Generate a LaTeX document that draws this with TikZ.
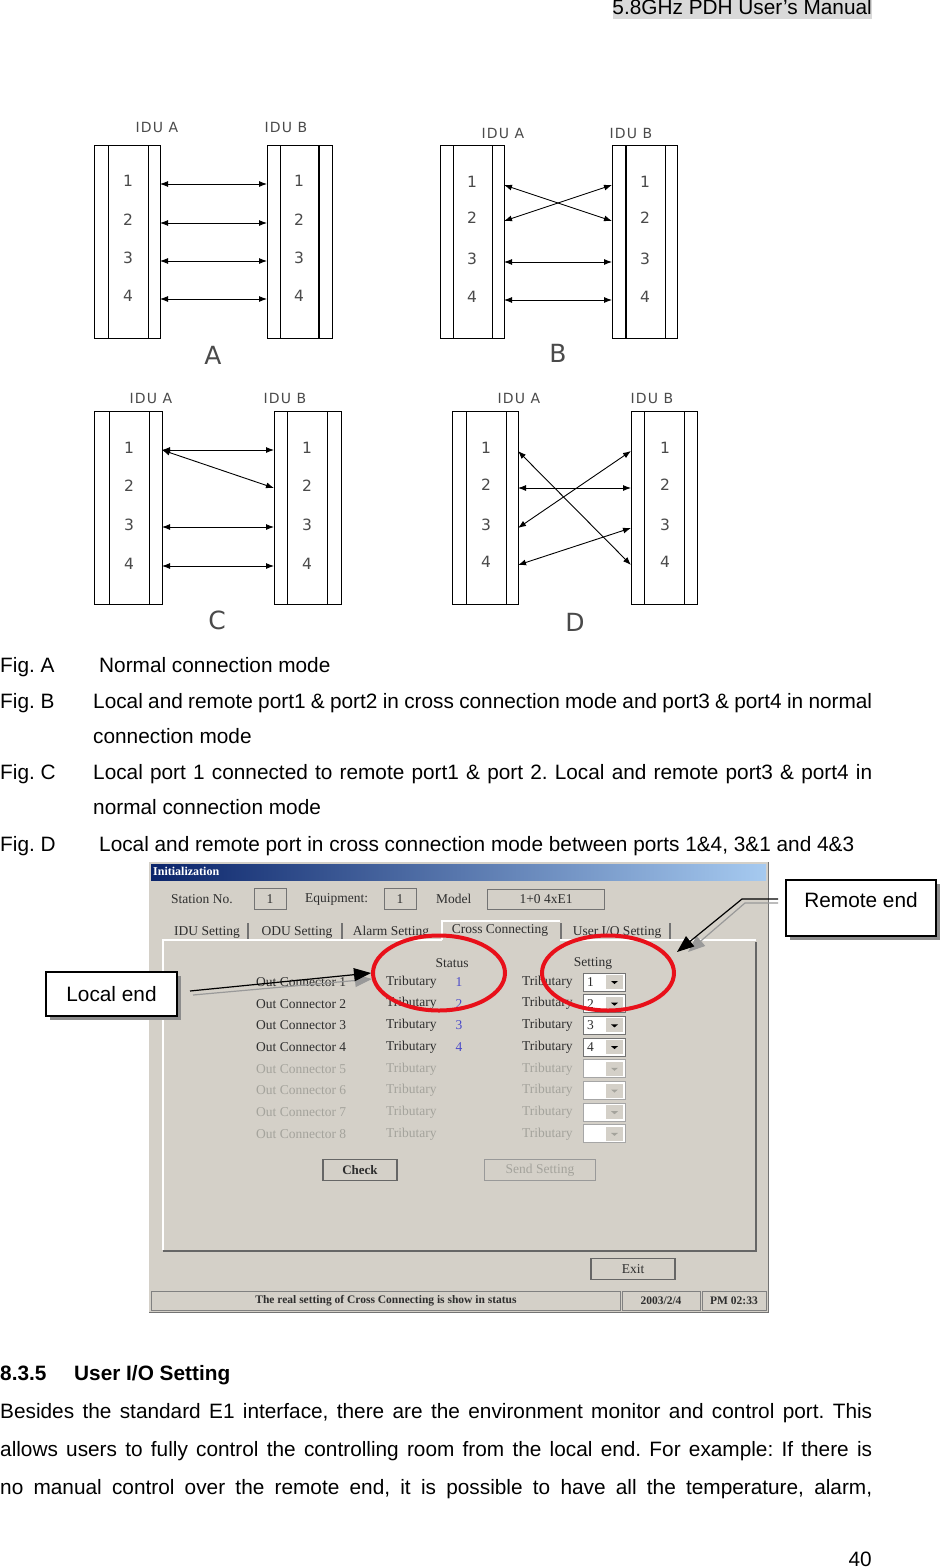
\documentclass[tikz,border=0pt]{standalone}
\usepackage{fontspec}
\setmainfont{Liberation Sans}
\newfontfamily\idufont[LetterSpace=8]{DejaVu Sans}
\newfontfamily\letterfont{DejaVu Sans}
\newfontfamily\shotfont{Liberation Serif}
\usetikzlibrary{arrows.meta,shapes.geometric,shadows,calc}
\definecolor{winbg}{HTML}{D4D0C8}
\definecolor{titledark}{HTML}{0A246A}
\definecolor{titlelight}{HTML}{A6CAF0}
\definecolor{wintext}{HTML}{2E2E2E}
\definecolor{windim}{HTML}{A4A39C}
\definecolor{winblue}{HTML}{4A4AC8}
\definecolor{ringred}{HTML}{E8101A}
\definecolor{hdrgray}{HTML}{D9D9D9}
\definecolor{idugray}{HTML}{4A4A4A}
\frenchspacing
\begin{document}
\begin{tikzpicture}[x=1pt,y=-1pt,
  body/.style={font=\fontsize{20.8}{25}\selectfont,inner sep=0,anchor=base west},
  idu/.style={font=\idufont\fontsize{14}{14}\selectfont,text=idugray,inner sep=0},
  port/.style={font=\idufont\fontsize{15.5}{15}\selectfont,text=idugray,inner sep=0},
  figletter/.style={font=\letterfont\fontsize{25}{25}\selectfont,text=idugray,inner sep=0},
  unit/.style={line width=1pt},
  link/.style={{Latex[length=8pt,width=6pt]}-{Latex[length=8pt,width=6pt]},line width=0.9pt},
  shot/.style={font=\shotfont\fontsize{13.5}{14}\selectfont,text=wintext,inner sep=0},
  dim/.style={shot,text=windim},
  field/.style={shot,draw=black!55,line width=1pt},
  btn/.style={shot,draw=black!60,line width=1.2pt,minimum height=21pt},
  pane/.style={shot,font=\shotfont\bfseries\fontsize{11.5}{12}\selectfont,draw=black!50,line width=1pt,minimum height=19pt},
  ring/.style={ellipse,draw=ringred,line width=4pt,minimum width=132pt,minimum height=75pt,inner sep=0},
  callout/.style={draw,line width=1.5pt,fill=white,font=\fontsize{20.8}{25}\selectfont,
    drop shadow={shadow xshift=4pt,shadow yshift=-4pt,fill=black!45,opacity=1}},
  pointer/.style={-{Triangle[length=17pt,width=13pt]},line width=1.2pt},
  pointer shadow/.style={pointer,draw=black!40}
]
\useasboundingbox (0,0) rectangle (941,1568);
\fill[white] (0,0) rectangle (941,1568);

% page header
\fill[hdrgray] (613,0) rectangle (872,19);
\node[body,anchor=base east] (header) at (872,15) {5.8GHz PDH User’s Manual};

% fig A
\draw[unit] (94,145) rectangle (160,338);
\draw[unit] (108,145) -- (108,338) (148,145) -- (148,338);
\draw[unit] (267,145) rectangle (332,338);
\draw[unit] (280,145) -- (280,338);
\draw[unit,line width=2.5pt] (319,145) -- (319,338);
\node[idu] (a-ida) at (157,127) {IDU A};
\node[idu] (a-idb) at (286,127) {IDU B};
\foreach \i/\y in {1/184,2/223,3/261,4/299}{
  \node[port] (a-l\i) at (128,\y-3) {\i};
  \node[port] (a-r\i) at (299,\y-3) {\i};
  \coordinate (a-pl\i) at (160,\y);
  \coordinate (a-pr\i) at (267,\y);
}
\foreach \i in {1,...,4}
  \draw[link] (a-pl\i) -- (a-pr\i);
\node[figletter] (a-name) at (213,355) {A};

% fig B
\draw[unit] (440,145) rectangle (504,338);
\draw[unit] (453,145) -- (453,338) (492,145) -- (492,338);
\draw[unit] (612,145) rectangle (677,338);
\draw[unit,line width=2.5pt] (626,145) -- (626,338);
\draw[unit] (665,145) -- (665,338);
\node[idu] (b-ida) at (503,133) {IDU A};
\node[idu] (b-idb) at (631,133) {IDU B};
\foreach \i/\y in {1/185,2/221,3/262,4/300}{
  \node[port] (b-l\i) at (472,\y-3) {\i};
  \node[port] (b-r\i) at (645,\y-3) {\i};
  \coordinate (b-pl\i) at (504,\y);
  \coordinate (b-pr\i) at (612,\y);
}
\draw[link] (b-pl1) -- (b-pr2);
\draw[link] (b-pl2) -- (b-pr1);
\draw[link] (b-pl3) -- (b-pr3);
\draw[link] (b-pl4) -- (b-pr4);
\node[figletter] (b-name) at (558,353) {B};

% fig C
\draw[unit] (94,411) rectangle (162,604);
\draw[unit] (109,411) -- (109,604) (149,411) -- (149,604);
\draw[unit] (274,411) rectangle (341,604);
\draw[unit] (287,411) -- (287,604) (327,411) -- (327,604);
\node[idu] (c-ida) at (151,398) {IDU A};
\node[idu] (c-idb) at (285,398) {IDU B};
\foreach \i/\y in {1/450,2/488,3/527,4/566}{
  \node[port] (c-l\i) at (129,\y-2) {\i};
  \node[port] (c-r\i) at (307,\y-2) {\i};
  \coordinate (c-pl\i) at (162,\y);
  \coordinate (c-pr\i) at (274,\y);
}
\draw[link] (c-pl1) -- (c-pr1);
\draw[link] (c-pl1) -- (c-pr2);
\draw[link] (c-pl3) -- (c-pr3);
\draw[link] (c-pl4) -- (c-pr4);
\node[figletter] (c-name) at (217,620) {C};

% fig D
\draw[unit] (452,411) rectangle (518,604);
\draw[unit] (466,411) -- (466,604) (506,411) -- (506,604);
\draw[unit] (631,411) rectangle (697,604);
\draw[unit] (644,411) -- (644,604) (684,411) -- (684,604);
\node[idu] (d-ida) at (519,398) {IDU A};
\node[idu] (d-idb) at (652,398) {IDU B};
\foreach \i/\y in {1/451,2/488,3/528,4/565}{
  \node[port] (d-l\i) at (486,\y-3) {\i};
  \node[port] (d-r\i) at (665,\y-3) {\i};
  \coordinate (d-pl\i) at (518,\y);
  \coordinate (d-pr\i) at (631,\y);
}
\draw[link] (d-pl1) -- (d-pr4);
\draw[link] (d-pl2) -- (d-pr2);
\draw[link] (d-pl3) -- (d-pr1);
\draw[link] (d-pl4) -- (d-pr3);
\node[figletter] (d-name) at (575,622) {D};

% captions
\node[body] (capa) at (0,672) {Fig. A};
\node[body] (capa-txt) at (99,672) {Normal connection mode};
\node[body] (capb) at (0,708) {Fig. B};
\node[body] (capb-txt) at (93,708) {\makebox[779pt][s]{Local and remote port1 \& port2 in cross connection mode and port3 \& port4 in normal}};
\node[body] (capb-txt2) at (93,743) {connection mode};
\node[body] (capc) at (0,779) {Fig. C};
\node[body] (capc-txt) at (93,779) {\makebox[779pt][s]{Local port 1 connected to remote port1 \& port 2. Local and remote port3 \& port4 in}};
\node[body] (capc-txt2) at (93,814) {normal connection mode};
\node[body] (capd) at (0,851) {Fig. D};
\node[body] (capd-txt) at (99,851) {Local and remote port in cross connection mode between ports 1\&4, 3\&1 and 4\&3};

% screenshot window
\fill[winbg] (149,862) rectangle (768,1312);
\draw[black!55,line width=1pt] (768,862) -- (768,1312) -- (149,1312);
\shade[left color=titledark,right color=titlelight] (151,864) rectangle (766,880);
\node[shot,font=\shotfont\bfseries\fontsize{12}{12}\selectfont,text=white,anchor=west] (titletext) at (153,871) {Initialization};
\node[shot,anchor=west] (stationlbl) at (171,899) {Station No.};
\node[field,minimum width=32pt,minimum height=21pt] (stationbox) at (270,899) {1};
\node[shot,anchor=west] (equiplbl) at (305,899) {Equipment:};
\node[field,minimum width=32pt,minimum height=21pt] (equipbox) at (400,899) {1};
\node[shot,anchor=west] (modellbl) at (436,899) {Model};
\node[field,minimum width=117pt,minimum height=20pt] (modelbox) at (546,899) {1+0 4xE1};

% tabs
\node[shot] (tab1) at (207,932) {IDU Setting};
\node[shot] (tab2) at (297,932) {ODU Setting};
\node[shot] (tab3) at (391,932) {Alarm Setting};
\node[shot] (tab4) at (500,930) {Cross Connecting};
\node[shot] (tab5) at (617,932) {User I/O Setting};
\foreach \x in {248,342,561,670}
  \draw[black!55,line width=1.2pt] (\x,923) -- (\x,940);
\draw[white,line width=1.2pt] (442,940) -- (442,921) -- (560,921);
\draw[white,line width=1.5pt] (163,1250) -- (163,940) -- (442,940) (560,940) -- (756,940);
\draw[black!60,line width=1.5pt] (163,1251) -- (756,1251) -- (756,942);

% connector table
\node[shot] (statushd) at (452,963) {Status};
\node[shot] (settinghd) at (593,963) {Setting};
\foreach \i in {1,...,4}{
  \pgfmathsetmacro\ry{982+21.7*(\i-1)}
  \node[shot,anchor=west] (oc\i) at (256,\ry) {Out Connector \i};
  \node[shot,anchor=west] (stt\i) at (386,\ry) {Tributary};
  \node[shot,text=winblue] (stv\i) at (459,\ry) {\i};
  \node[shot,anchor=west] (set\i) at (522,\ry) {Tributary};
  \node[field,fill=white,minimum width=42pt,minimum height=18pt] (cb\i) at (604,\ry) {};
  \fill[winbg] (606,\ry-7) rectangle (623,\ry+7);
  \fill[black] (611,\ry-1) -- (618,\ry-1) -- (614.5,\ry+2) -- cycle;
  \node[shot,anchor=west] (cbv\i) at (587,\ry) {\i};
}
\foreach \i in {5,...,8}{
  \pgfmathsetmacro\ry{982+21.7*(\i-1)}
  \node[dim,anchor=west] (oc\i) at (256,\ry) {Out Connector \i};
  \node[dim,anchor=west] (stt\i) at (386,\ry) {Tributary};
  \node[dim,anchor=west] (set\i) at (522,\ry) {Tributary};
  \node[field,draw=black!35,fill=white,minimum width=42pt,minimum height=18pt] (cb\i) at (604,\ry) {};
  \fill[winbg] (606,\ry-7) rectangle (623,\ry+7);
  \fill[windim] (611,\ry-1) -- (618,\ry-1) -- (614.5,\ry+2) -- cycle;
}

% buttons and status bar
\node[btn,minimum width=74pt,font=\shotfont\bfseries\fontsize{13}{14}\selectfont] (checkbtn) at (360,1170) {Check};
\node[btn,minimum width=111pt,text=windim,draw=black!40] (sendbtn) at (540,1170) {Send Setting};
\node[btn,minimum width=84pt] (exitbtn) at (633,1269) {Exit};
\node[pane,minimum width=469pt] (msgpane) at (386,1301) {The real setting of Cross Connecting is show in status};
\node[pane,minimum width=78pt] (datepane) at (661,1301) {2003/2/4};
\node[pane,minimum width=64pt] (timepane) at (734,1301) {PM 02:33};

% red rings
\node[ring] (statusring) at (439,973) {};
\node[ring] (settingring) at (608,973) {};

% callouts
\node[callout,minimum width=131pt,minimum height=44pt] (localbox) at (111.5,994) {Local end};
\node[callout,minimum width=150pt,minimum height=56pt,inner ysep=6pt,text height=21pt,text depth=23pt] (remotebox) at (861,908) {Remote end};
\coordinate (localtail) at (190,991);
\draw[pointer shadow] ($(localtail)+(3,4)$) -- ($(statusring.west)+(1,6)$);
\draw[pointer] (localtail) -- (statusring.west);
\coordinate (remotetail) at (778,899);
\coordinate (remotebend) at (742,899);
\coordinate (remotetip) at (677,952);
\draw[pointer shadow] ($(remotetail)+(0,4)$) -- ($(remotebend)+(3,4)$) -- ($(remotetip)+(11,0)$);
\draw[pointer] (remotetail) -- (remotebend) -- (remotetip);

% section text
\node[body,font=\bfseries\fontsize{20.8}{25}\selectfont] (secnum) at (0,1380) {8.3.5};
\node[body,font=\bfseries\fontsize{20.8}{25}\selectfont] (sectitle) at (74,1380) {User I/O Setting};
\node[body] (para1) at (0,1418) {\makebox[872pt][s]{Besides the standard E1 interface, there are the environment monitor and control port. This}};
\node[body] (para2) at (0,1456) {\makebox[872pt][s]{allows users to fully control the controlling room from the local end. For example: If there is}};
\node[body] (para3) at (0,1494) {\makebox[872pt][s]{no manual control over the remote end, it is possible to have all the temperature, alarm,}};
\node[body,anchor=base east] (pagenum) at (872,1566) {40};
\end{tikzpicture}
\end{document}
